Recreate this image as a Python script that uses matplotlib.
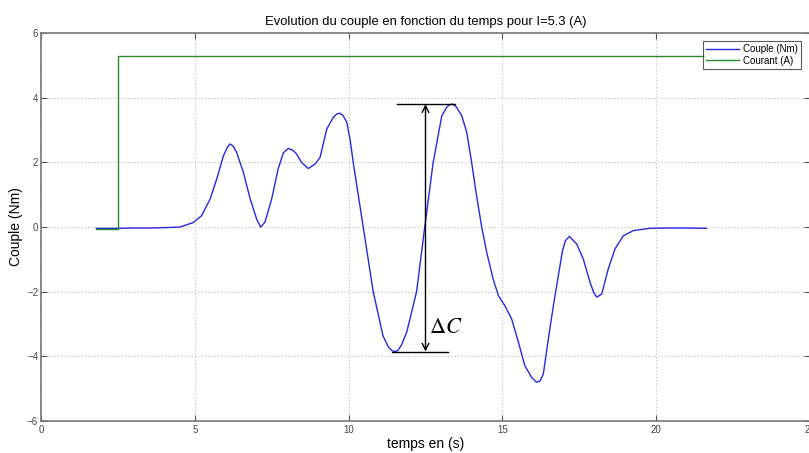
import matplotlib
matplotlib.use("Agg")
import matplotlib.pyplot as plt

# Couple (Nm) vs time (s)
t_couple = [1.8, 2.5, 3.0, 3.5, 4.0, 4.52, 4.95, 5.22, 5.5, 5.71, 5.93, 6.05, 6.14, 6.25, 6.36,
            6.58, 6.8, 7.01, 7.14, 7.28, 7.5, 7.71, 7.88, 8.04, 8.18, 8.31, 8.47, 8.69, 8.91,
            9.07, 9.29, 9.5, 9.62, 9.72, 9.82, 9.94, 10.05, 10.15, 10.47, 10.8, 11.12, 11.3,
            11.42, 11.5, 11.6, 11.72, 11.89, 12.21, 12.48, 12.75, 13.03, 13.2, 13.3, 13.38,
            13.5, 13.68, 13.84, 14.0, 14.16, 14.33, 14.49, 14.7, 14.87, 15.08, 15.3, 15.52,
            15.73, 15.95, 16.11, 16.22, 16.33, 16.55, 16.68, 16.82, 16.95, 17.05, 17.18, 17.42,
            17.63, 17.85, 17.98, 18.07, 18.23, 18.44, 18.66, 18.93, 19.26, 19.8, 20.3, 21.0,
            21.64]
couple = [-0.04, -0.04, -0.03, -0.03, -0.02, 0.0, 0.14, 0.35, 0.87, 1.48, 2.2, 2.45, 2.57, 2.5,
          2.31, 1.69, 0.87, 0.25, 0.0, 0.15, 0.87, 1.8, 2.3, 2.43, 2.38, 2.26, 2.0, 1.81, 1.95,
          2.15, 3.03, 3.39, 3.5, 3.52, 3.45, 3.24, 2.7, 2.0, 0.03, -2.0, -3.37, -3.72,
          -3.83, -3.85, -3.82, -3.65, -3.25, -2.0, 0.03, 2.0, 3.44, 3.72, 3.79, 3.8,
          3.72, 3.44, 2.93, 2.0, 0.97, -0.01, -0.78, -1.61, -2.12, -2.43, -2.84, -3.56,
          -4.29, -4.65, -4.8, -4.76, -4.55, -3.1, -2.3, -1.5, -0.75, -0.42, -0.29, -0.53,
          -0.99, -1.71, -2.05, -2.17, -2.07, -1.3, -0.68, -0.27, -0.11, -0.04, -0.03, -0.03,
          -0.04]

# Courant (A) vs time (s)
t_courant = [1.8, 2.5, 2.5, 21.6]
courant = [-0.05, -0.05, 5.3, 5.3]

title = "Evolution du couple en fonction du temps pour I=5.3 (A)"
xlabel = "temps en (s)"
ylabel = "Couple (Nm)"
legend_labels = ["Couple (Nm)", "Courant (A)"]
xticks = [0, 5, 10, 15, 20, 25]
yticks = [-6, -4, -2, 0, 2, 4, 6]

# Delta C annotation (data values)
dc_x = 12.5
dc_top = 3.8
dc_bot = -3.85

plt.rcParams['font.family'] = ['Liberation Sans', 'DejaVu Sans']
plt.rcParams['mathtext.fontset'] = 'stix'

fig = plt.figure(figsize=(8.09, 4.53), dpi=100)
ax = fig.add_axes([0.0507, 0.0706, 0.9505, 0.8564])

ax.plot(t_couple, couple, color='#2828e0', lw=1.0, label=legend_labels[0],
        solid_joinstyle='round')
ax.plot(t_courant, courant, color='#2a8a2a', lw=1.0, label=legend_labels[1])

ax.set_xlim(0, 25)
ax.set_ylim(-6, 6)
ax.set_xticks(xticks)
ax.set_yticks(yticks)
ax.tick_params(direction='in', top=True, right=True, labelsize=7, colors='#555555',
               length=4, width=0.8, pad=2)
ax.tick_params(axis='x', pad=3)
for lab in ax.get_xticklabels() + ax.get_yticklabels():
    lab.set_color('#444444')
for s in ax.spines.values():
    s.set_color('#777777')
    s.set_linewidth(1.2)
ax.grid(True, linestyle=(0, (1, 2)), color='#bbbbbb', linewidth=0.8)

ax.set_title(title, fontsize=9.4, pad=6)
ax.set_xlabel(xlabel, fontsize=10, labelpad=1)
ax.set_ylabel(ylabel, fontsize=10, labelpad=3)

# Delta C annotation
ax.plot([11.57, 13.46], [dc_top, dc_top], color='black', lw=1.0)
ax.plot([11.4, 13.24], [dc_bot, dc_bot], color='black', lw=1.0)
ax.annotate('', xy=(dc_x, dc_top), xytext=(dc_x, dc_bot),
            arrowprops=dict(arrowstyle='<->', color='black', lw=1.0,
                            shrinkA=0, shrinkB=0, mutation_scale=12))
ax.text(12.62, -3.1, r'$\Delta C$', fontsize=16, ha='left', va='center', color='black')

leg = ax.legend(loc='upper right', fontsize=7, frameon=True, fancybox=False,
                edgecolor='#333333', borderpad=0.3, handlelength=3.4, handletextpad=0.5,
                labelspacing=0.2, bbox_to_anchor=(0.995, 0.992))
leg.get_frame().set_linewidth(0.8)

fig.savefig('out.png', dpi=100)
